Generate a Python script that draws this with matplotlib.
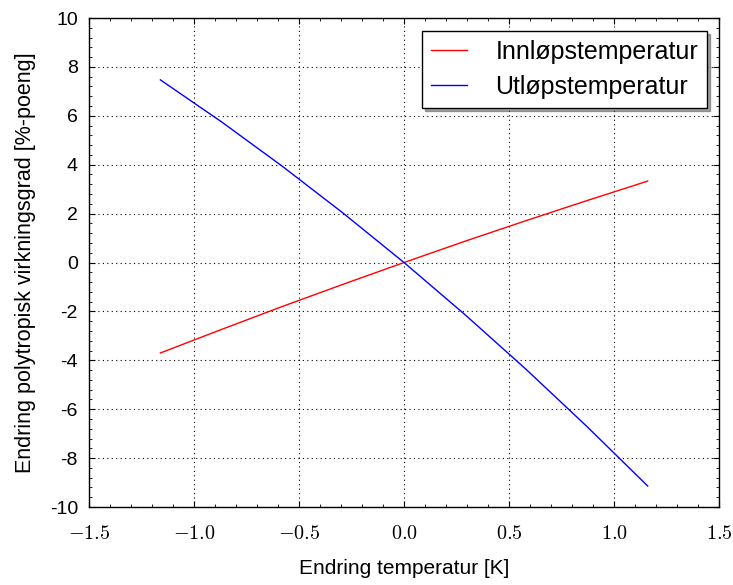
import matplotlib
matplotlib.use("Agg")
import matplotlib.pyplot as plt
from matplotlib.ticker import AutoMinorLocator, FuncFormatter

plt.rcParams["font.family"] = ["Liberation Sans", "DejaVu Sans"]
plt.rcParams["mathtext.fontset"] = "cm"
plt.rcParams["axes.unicode_minus"] = False

# Endring temperatur [K]
dT = [-1.16, -0.87, -0.58, -0.29, 0.0, 0.29, 0.58, 0.87, 1.16]
# Endring polytropisk virkningsgrad [%-poeng]
innlop = [-3.70, -2.74, -1.80, -0.89, 0.0, 0.87, 1.71, 2.53, 3.33]
utlop = [7.47, 5.76, 3.94, 2.02, 0.0, -2.13, -4.36, -6.70, -9.14]

fig = plt.figure(figsize=(7.33, 5.85), dpi=100)
ax = fig.add_axes([0.1214, 0.1333, 0.8596, 0.8359])

ax.plot(dT, innlop, color="red", lw=1.0, label="Innløpstemperatur")
ax.plot(dT, utlop, color="blue", lw=1.0, label="Utløpstemperatur")

ax.set_xlim(-1.5, 1.5)
ax.set_ylim(-10, 10)
ax.set_xticks([-1.5, -1.0, -0.5, 0.0, 0.5, 1.0, 1.5])
ax.set_yticks(range(-10, 11, 2))
ax.xaxis.set_major_formatter(FuncFormatter(lambda v, p: r"$%.1f$" % v))
ax.xaxis.set_minor_locator(AutoMinorLocator(5))
ax.yaxis.set_minor_locator(AutoMinorLocator(5))

ax.tick_params(which="both", direction="in", top=True, right=True)
ax.tick_params(which="major", length=4)
ax.tick_params(which="minor", length=2)
ax.tick_params(axis="y", labelsize=14, pad=8)
ax.tick_params(axis="x", labelsize=14.5, pad=12)

ax.grid(True, which="major", color="black", linestyle=(0, (1, 3)), lw=0.8)

for s in ax.spines.values():
    s.set_linewidth(1.0)

ax.set_xlabel("Endring temperatur [K]", fontsize=15, labelpad=12)
ax.set_ylabel("Endring polytropisk virkningsgrad [%-poeng]", fontsize=15.5, labelpad=10)

leg = ax.legend(loc="upper right", fontsize=18, fancybox=False, shadow=True,
                framealpha=1, edgecolor="black", handlelength=1.45,
                handletextpad=1.15, borderpad=0.35, labelspacing=0.45,
                borderaxespad=0, bbox_to_anchor=(0.981, 0.973))
leg.get_frame().set_linewidth(1.0)

fig.savefig("out.png", dpi=100)
